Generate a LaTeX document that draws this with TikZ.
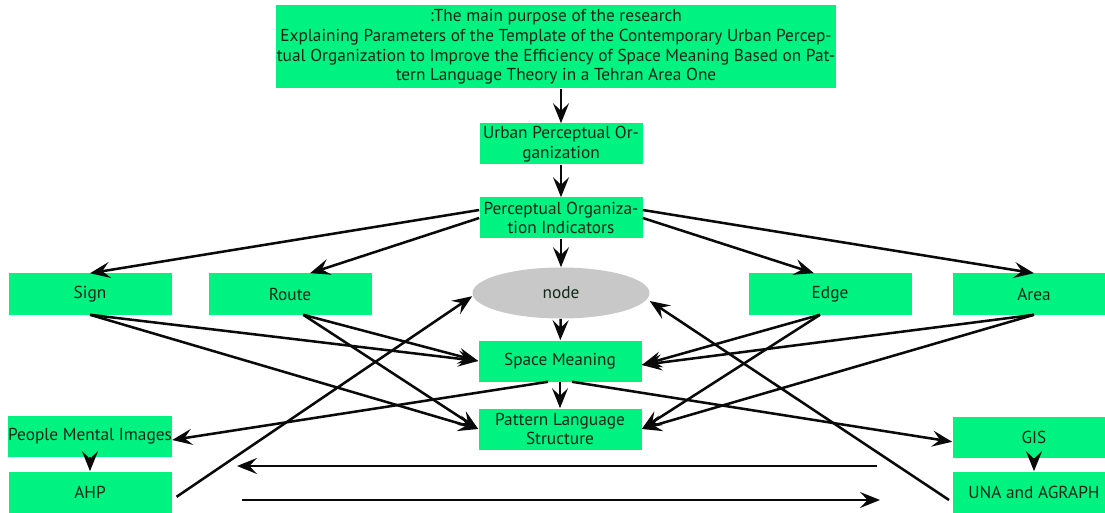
\documentclass[tikz,border=0pt]{standalone}
\usepackage{fontspec}
\setmainfont{PT Sans}
\usepackage{xcolor}
\usepackage{tikz}
\usetikzlibrary{shapes.geometric,arrows.meta,positioning,calc}
\definecolor{boxgreen}{RGB}{0, 242, 128}
\definecolor{nodegray}{RGB}{200, 200, 200}
\definecolor{arrowblack}{RGB}{10, 10, 10}
\definecolor{textdark}{RGB}{20, 40, 25}

\begin{document}
\begin{tikzpicture}[
    font=\fontsize{12.3pt}{14pt}\selectfont,
    text=textdark,
    % box styles
    topbox/.style={rectangle, fill=boxgreen, align=center, minimum width=14cm, minimum height=2.075cm, inner sep=0pt},
    box/.style={rectangle, fill=boxgreen, align=center, minimum width=4.075cm, minimum height=1.025cm, inner sep=0pt},
    nodeshape/.style={ellipse, fill=nodegray, minimum width=4.425cm, minimum height=1.275cm, inner sep=0pt},
    arrow/.style={-{Stealth[length=5mm,width=4mm,inset=1.9mm]}, line width=1.8pt, color=arrowblack}
]
\useasboundingbox (0,0) rectangle (27.625,-12.825);

% Row 1: purpose and organization
\node [topbox] (purpose) at (13.9,-1.175) {:The main purpose of the research\\Explaining Parameters of the Template of the Contemporary Urban Percep-\\tual Organization to Improve the Efficiency of Space Meaning Based on Pat-\\tern Language Theory in a Tehran Area One};
\node [box] (urban) at (14.025,-3.6) {Urban Perceptual Or-\\ganization};
\node [box] (indicators) at (14.025,-5.45) {Perceptual Organiza-\\tion Indicators};

% Row 2: indicators
\node [box] (sign) at (2.25,-7.35) {Sign};
\node [box] (route) at (7.25,-7.35) {Route};
\node [nodeshape] (nodeell) at (14.025,-7.325) {node};
\node [box] (edge) at (20.75,-7.35) {Edge};
\node [box] (area) at (25.85,-7.35) {Area};

% Row 3: meaning and structure
\node [box] (meaning) at (14,-9.025) {Space Meaning};
\node [box] (pattern) at (14,-10.725) {Pattern Language\\Structure};

% Row 4: methods
\node [box] (mental) at (2.25,-10.9) {People Mental Images};
\node [box] (ahp) at (2.25,-12.3) {AHP};
\node [box] (gis) at (25.85,-10.925) {GIS};
\node [box] (una) at (25.85,-12.3) {UNA and AGRAPH};

% free ends of the two horizontal arrows
\coordinate (backR) at (21.925,-11.65);
\coordinate (backL) at (5.925,-11.65);
\coordinate (fwdL) at (6.05,-12.5);
\coordinate (fwdR) at (22,-12.5);

% Main vertical flow
\draw [arrow] (purpose.south -| urban.north) -- (urban.north);
\draw [arrow] (urban) -- (indicators);
\draw [arrow] (indicators) -- (nodeell);
\draw [arrow] (nodeell) -- (meaning);
\draw [arrow] (meaning) -- (pattern);

% Indicators to the five elements
\draw [arrow] ([yshift=0.2cm]indicators.west) -- (sign.north);
\draw [arrow] (indicators.west) -- ([xshift=0.5cm]route.north);
\draw [arrow] (indicators.east) -- ([xshift=-0.4cm]edge.north);
\draw [arrow] ([yshift=0.2cm]indicators.east) -- (area.north);

% Elements to meaning and structure
\draw [arrow] (sign.south) -- (meaning.west);
\draw [arrow] (sign.south) -- (pattern.west);
\draw [arrow] ([xshift=0.33cm]route.south) -- (meaning.west);
\draw [arrow] ([xshift=0.33cm]route.south) -- (pattern.west);
\draw [arrow] ([xshift=-0.25cm]edge.south) -- ([yshift=-0.1cm]meaning.east);
\draw [arrow] ([xshift=-0.25cm]edge.south) -- (pattern.east);
\draw [arrow] (area.south) -- ([yshift=-0.1cm]meaning.east);
\draw [arrow] (area.south) -- (pattern.east);

% Meaning to methods
\draw [arrow] ([xshift=-0.3cm]meaning.south) -- ([yshift=-0.1cm]mental.east);
\draw [arrow] ([xshift=0.3cm]meaning.south) -- ([yshift=-0.12cm]gis.west);
\draw [arrow] (mental) -- (ahp);
\draw [arrow] (gis) -- (una);

% Methods back to node
\draw [arrow] ([xshift=0.12cm,yshift=-0.12cm]ahp.east) -- ([yshift=-0.08cm]nodeell.west);
\draw [arrow] ([xshift=-0.08cm,yshift=-0.2cm]una.west) -- ([yshift=-0.2cm]nodeell.east);

% Horizontal arrows
\draw [arrow] (backR) -- (backL);
\draw [arrow] (fwdL) -- (fwdR);

\end{tikzpicture}
\end{document}
